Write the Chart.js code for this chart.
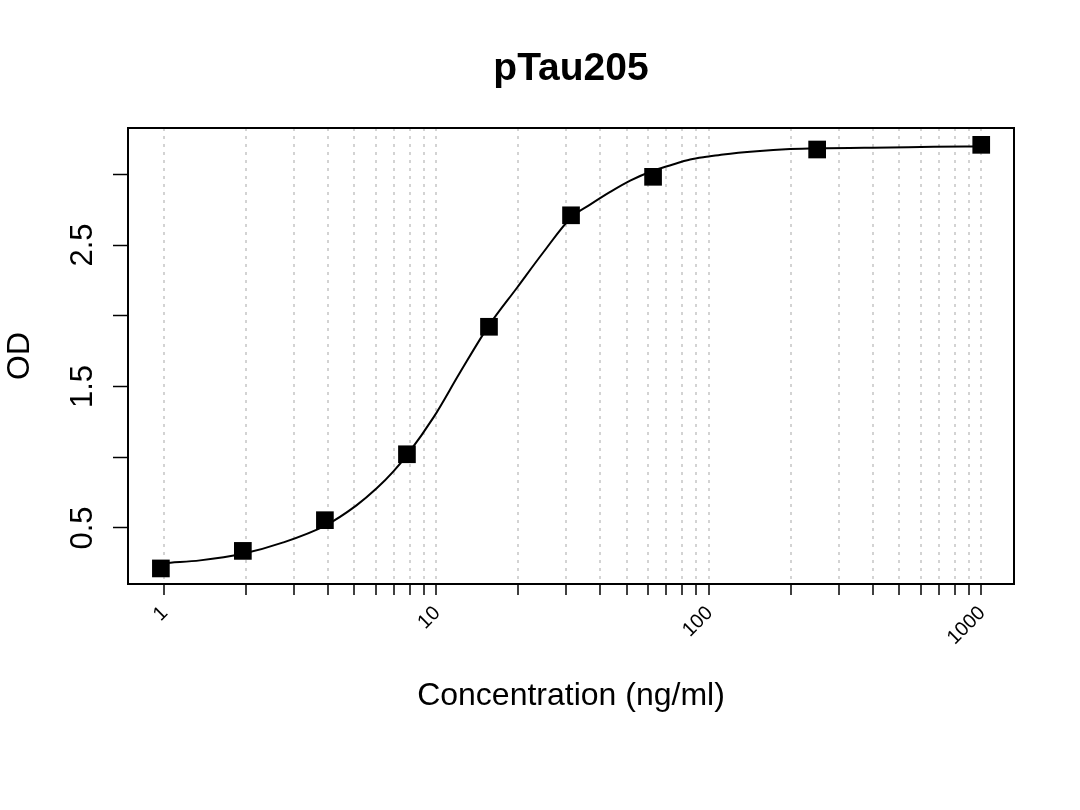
<!DOCTYPE html>
<html>
<head>
<meta charset="utf-8">
<title>pTau205</title>
<script src="https://cdn.jsdelivr.net/npm/chart.js@4"></script>
<style>
    html, body { margin: 0; padding: 0; background: #fff; }
    #wrap { width: 1080px; height: 810px; }
</style>
</head>
<body>
<div id="wrap"><canvas id="stdCurve" width="1080" height="810"></canvas></div>
<script>
// standards (2-fold dilutions, ng/ml) and measured OD
var concX = [0.977, 1.953, 3.906, 7.8125, 15.625, 31.25, 62.5, 250, 1000];
var odY = [0.214, 0.338, 0.555, 1.021, 1.922, 2.710, 2.982, 3.175, 3.208];

// fitted curve
var curveX = [0.977, 1.06, 1.36, 1.95, 2.75, 3.9, 5.1, 6.05, 6.97, 7.85, 9.82, 12.2, 15.6,
    19.8, 24.7, 31.3, 36.7, 43.5, 51.5, 62.5, 72, 85.5, 100, 113, 150, 199, 251, 464, 668, 1000];
var curveY = [0.250, 0.255, 0.271, 0.318, 0.398, 0.515, 0.660, 0.780, 0.900, 1.020, 1.287, 1.595, 1.930,
    2.198, 2.447, 2.695, 2.785, 2.875, 2.955, 3.025, 3.062, 3.104, 3.125, 3.140, 3.163, 3.178, 3.184, 3.190, 3.194, 3.197];

// axis ticks
var xTicks = [1, 2, 3, 4, 5, 6, 7, 8, 9, 10, 20, 30, 40, 50, 60, 70, 80, 90,
    100, 200, 300, 400, 500, 600, 700, 800, 900, 1000];
var xTickLabels = [1, 10, 100, 1000];
var yTicks = [0.5, 1, 1.5, 2, 2.5, 3];
var yTickLabels = [0.5, 1.5, 2.5];
var xRange = [0.740, 1319];
var yRange = [0.104, 3.327];

var FONT = '"Liberation Sans", Arial, Helvetica, sans-serif';

var pts = concX.map(function (x, i) { return { x: x, y: odY[i] }; });
var fit = curveX.map(function (x, i) { return { x: x, y: curveY[i] }; });

// box, tick labels and titles drawn R-style
var rFrame = {
    id: 'rFrame',
    afterDraw: function (chart) {
        var ctx = chart.ctx;
        var a = chart.chartArea;
        var xs = chart.scales.x;
        var ys = chart.scales.y;
        ctx.save();
        ctx.strokeStyle = '#000';
        ctx.lineWidth = 2;
        ctx.strokeRect(a.left, a.top, a.right - a.left, a.bottom - a.top);

        ctx.fillStyle = '#000';
        // x tick labels, rotated 45 deg
        ctx.font = '20px ' + FONT;
        ctx.textAlign = 'right';
        ctx.textBaseline = 'middle';
        xTickLabels.forEach(function (v) {
            var px = xs.getPixelForValue(v);
            ctx.save();
            ctx.translate(px + 1, a.bottom + 26);
            ctx.rotate(-Math.PI / 4);
            ctx.fillText(String(v), 0, 0);
            ctx.restore();
        });

        // y tick labels, vertical
        ctx.font = '31px ' + FONT;
        ctx.textAlign = 'center';
        ctx.textBaseline = 'alphabetic';
        yTickLabels.forEach(function (v) {
            var py = ys.getPixelForValue(v);
            ctx.save();
            ctx.translate(92, py);
            ctx.rotate(-Math.PI / 2);
            ctx.fillText(String(v), 0, 0);
            ctx.restore();
        });

        // axis titles
        var cx = (a.left + a.right) / 2;
        var cy = (a.top + a.bottom) / 2;
        ctx.font = '32px ' + FONT;
        ctx.fillText('Concentration (ng/ml)', cx, 705);
        ctx.save();
        ctx.translate(29, cy);
        ctx.rotate(-Math.PI / 2);
        ctx.fillText('OD', 0, 0);
        ctx.restore();

        // main title
        ctx.font = 'bold 39px ' + FONT;
        ctx.fillText('pTau205', cx, 80);
        ctx.restore();
    }
};

var ctx = document.getElementById('stdCurve').getContext('2d');
new Chart(ctx, {
    type: 'scatter',
    data: {
        datasets: [{
            label: 'Standards',
            data: pts,
            pointStyle: 'rect',
            pointRadius: 12.5,
            pointBorderWidth: 0,
            backgroundColor: '#000',
            borderColor: '#000',
            showLine: false
        }, {
            label: 'Fit',
            data: fit,
            showLine: true,
            pointRadius: 0,
            borderColor: '#000',
            borderWidth: 2,
            cubicInterpolationMode: 'monotone',
            fill: false
        }]
    },
    plugins: [rFrame],
    options: {
        responsive: false,
        animation: false,
        events: [],
        layout: { padding: { top: 128, right: 66, left: 0, bottom: 0 } },
        plugins: {
            legend: { display: false },
            title: { display: false },
            tooltip: { enabled: false }
        },
        scales: {
            x: {
                type: 'logarithmic',
                bounds: 'data',
                min: xRange[0],
                max: xRange[1],
                afterBuildTicks: function (s) {
                    s.ticks = xTicks.map(function (v) { return { value: v }; });
                    s.min = xRange[0];
                    s.max = xRange[1];
                },
                afterFit: function (s) { s.height = 226; },
                ticks: { display: false },
                border: { display: false, dash: [3, 5] },
                grid: {
                    color: '#d3d3d3',
                    lineWidth: 2,
                    drawOnChartArea: true,
                    drawTicks: true,
                    tickLength: 11,
                    tickColor: '#000',
                    tickWidth: 1.5,
                    tickBorderDash: []
                }
            },
            y: {
                type: 'linear',
                bounds: 'data',
                min: yRange[0],
                max: yRange[1],
                afterBuildTicks: function (s) {
                    s.ticks = yTicks.map(function (v) { return { value: v }; });
                    s.min = yRange[0];
                    s.max = yRange[1];
                },
                afterFit: function (s) { s.width = 128; },
                ticks: { display: false },
                border: { display: false },
                grid: {
                    drawOnChartArea: false,
                    drawTicks: true,
                    tickLength: 15,
                    tickColor: '#000',
                    tickWidth: 1.5
                }
            }
        }
    }
});
</script>
</body>
</html>
